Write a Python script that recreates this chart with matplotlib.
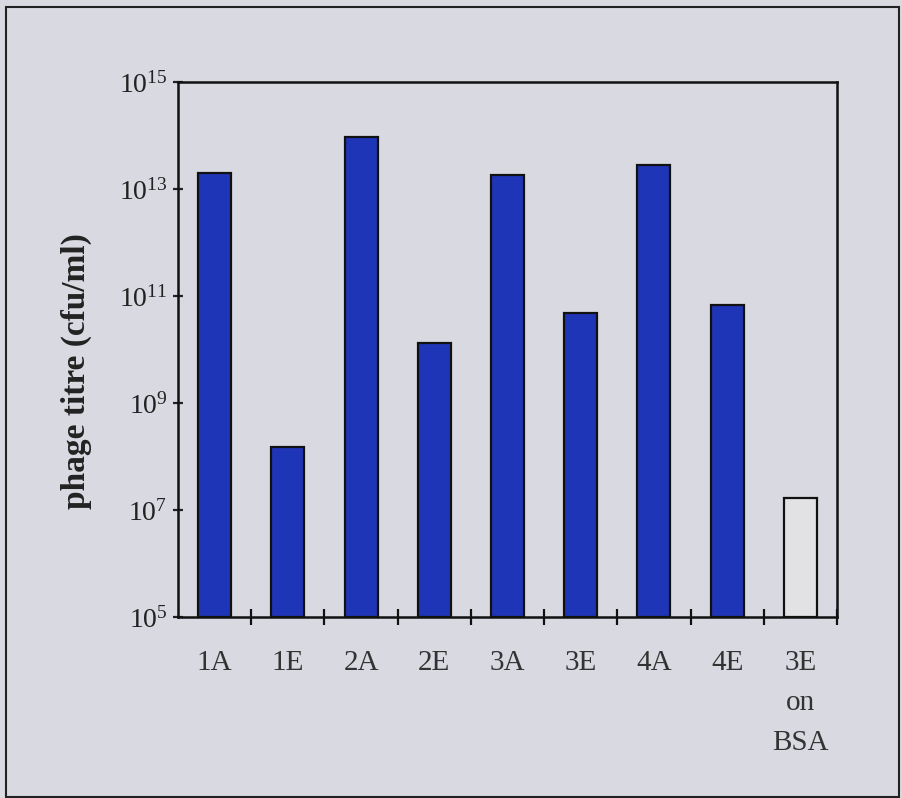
import matplotlib
matplotlib.use("Agg")
import matplotlib.pyplot as plt
from matplotlib.ticker import FixedLocator, FuncFormatter
from matplotlib.patches import Rectangle
import numpy as np

categories = ["1A", "1E", "2A", "2E", "3A", "3E", "4A", "4E", "3E\non\nBSA"]
titres = [2.0e13, 1.5e8, 9.5e13, 1.3e10, 1.8e13, 4.8e10, 2.8e13, 6.8e10, 1.7e7]
bar_colors = ["#1f35b8"] * 8 + ["#e2e2e4"]
y_ticks = [1e5, 1e7, 1e9, 1e11, 1e13, 1e15]

plt.rcParams['font.family'] = ['Liberation Serif', 'DejaVu Serif']
plt.rcParams['mathtext.fontset'] = 'custom'
plt.rcParams['mathtext.rm'] = 'Liberation Serif'

bg = "#d9d9e1"
fig = plt.figure(figsize=(9.03, 7.98), dpi=100, facecolor=bg)
ax = fig.add_axes([178/903, 1 - 617/798, (837-178)/903, (617-82)/798])
ax.set_facecolor(bg)

x = np.arange(len(categories))
ax.bar(x, titres, width=0.45, bottom=1e5, color=bar_colors, edgecolor="#111111", linewidth=1.6)

ax.set_yscale("log")
ax.set_ylim(1e5, 1e15)
ax.set_xlim(-0.5, len(categories) - 0.5)

ax.yaxis.set_major_locator(FixedLocator(y_ticks))
ax.yaxis.set_minor_locator(FixedLocator([]))
ax.yaxis.set_major_formatter(FuncFormatter(lambda v, p: r"$\mathregular{10^{%d}}$" % round(np.log10(v))))
ax.tick_params(axis="y", which="major", direction="inout", length=7, width=1.6,
               labelsize=20, pad=4, colors="#222222")

ax.set_xticks(x)
ax.set_xticklabels(categories, fontsize=21, color="#333333", linespacing=1.7, va="top")
ax.set_xticks(np.arange(0.5, len(categories) - 0.5 + 0.01, 1.0), minor=True)
ax.tick_params(axis="x", which="major", length=0, pad=24)
ax.tick_params(axis="x", which="minor", direction="inout", length=12, width=1.6, colors="#111111")

for s in ax.spines.values():
    s.set_linewidth(1.8)
    s.set_color("#111111")

ax.set_ylabel("phage titre (cfu/ml)", fontsize=24, fontweight="bold", color="#222222")
ax.yaxis.set_label_coords(-0.131, 0.46)

fig.patches.append(Rectangle((6/903, 1/798), 893/903, 790/798, transform=fig.transFigure,
                             fill=False, edgecolor="#222222", linewidth=1.5))

fig.savefig("out.png", dpi=100, facecolor=bg)
